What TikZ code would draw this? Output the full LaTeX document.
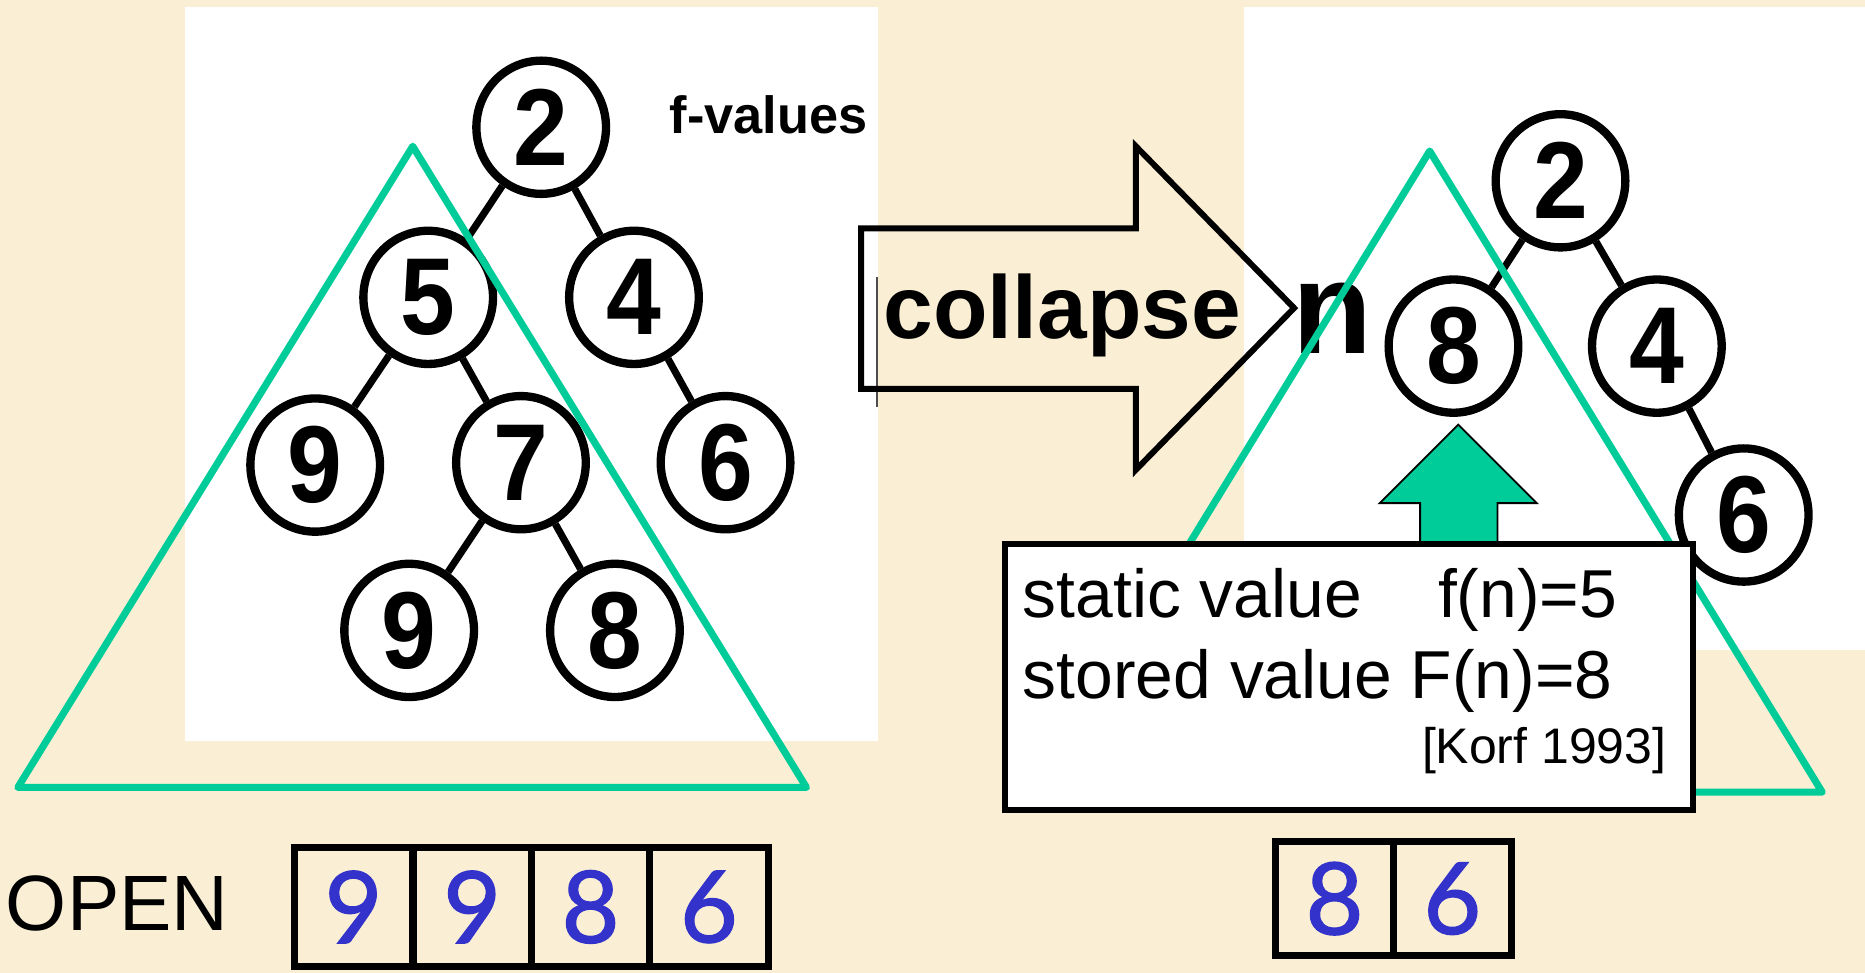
\documentclass[tikz,border=0pt]{standalone}
\usepackage{fontspec}
\setmainfont{Liberation Sans}
\newfontfamily\digitfont[FakeBold=1.3]{Lato}
\newfontfamily\treefont[FakeStretch=0.9]{Liberation Sans}
\usetikzlibrary{shapes.geometric}
\definecolor{bgcol}{RGB}{250,239,212}
\definecolor{tgreen}{RGB}{0,204,153}
\definecolor{dblue}{RGB}{51,51,204}
\begin{document}
\begin{tikzpicture}[x=0.5pt,y=-0.5pt,
  treenode/.style={ellipse, draw, line width=3.5pt, minimum width=54.5pt, minimum height=56pt, inner sep=0pt, font=\treefont\fontsize{46}{46}\selectfont\bfseries},
  treeedge/.style={line width=3pt},
  tri/.style={draw=tgreen, line width=3pt, line join=round},
  cell/.style={draw, line width=3pt, inner sep=0pt, font=\digitfont\fontsize{42}{42}\selectfont, text=dblue},
  lcell/.style={cell, minimum width=49.75pt, minimum height=50pt},
  rcell/.style={cell, minimum width=49.5pt, minimum height=48pt},
  plain/.style={inner sep=0pt, outer sep=0pt}
]
\fill[bgcol] (0,0) rectangle (1568,818);
\useasboundingbox (0,0) rectangle (1568,818);
% white panels
\fill[white] (155.5,5.6) rectangle (738,622.7);
\fill[white] (1045.5,6) rectangle (1568,546.5);
\draw[gray!60!black, line width=0.7pt] (737.5,233) -- (737.5,342);

% left tree
\node[treenode] (L2) at (455,107) {2};
\node[treenode] (L5) at (360,250) {5};
\node[treenode] (L4) at (533,250) {4};
\node[treenode] (L9a) at (265,391) {9};
\node[treenode] (L7) at (438,389) {7};
\node[treenode] (L6) at (610,389) {6};
\node[treenode] (L9b) at (344,530) {9};
\node[treenode] (L8) at (517,530) {8};
\draw[treeedge] (L2) -- (L5);
\draw[treeedge] (L2) -- (L4);
\draw[treeedge] (L5) -- (L9a);
\draw[treeedge] (L5) -- (L7);
\draw[treeedge] (L4) -- (L6);
\draw[treeedge] (L7) -- (L9b);
\draw[treeedge] (L7) -- (L8);
\node[plain, anchor=base west, font=\fontsize{22}{22}\selectfont\bfseries] (fval) at (563,112) {f-values};

% collapse arrow
\draw[line width=2.5pt, line join=miter] (724,192) -- (955,192) -- (955,123) -- (1088,259) -- (955,395) -- (955,327) -- (724,327) -- cycle;
\node[plain, anchor=base west, font=\fontsize{37.5}{37.5}\selectfont\bfseries] (coll) at (743,285) {collapse};
\node[plain, anchor=base west, font=\fontsize{55}{55}\selectfont\bfseries] (nlab) at (1087,297) {n};

% right tree
\node[treenode] (R2) at (1312,152) {2};
\node[treenode] (R8) at (1222,291) {8};
\node[treenode] (R4) at (1393,291) {4};
\node[treenode] (R6) at (1466,433) {6};
\draw[treeedge] (R2) -- (R8);
\draw[treeedge] (R2) -- (R4);
\draw[treeedge] (R4) -- (R6);

% green triangles
\draw[tri] (347,123) -- (15,662) -- (678,662) -- cycle;
\draw[tri] (1202,127) -- (872,666) -- (1532,666) -- cycle;

% green up arrow
\draw[fill=tgreen, line width=0.8pt, line join=miter] (1226,357) -- (1292,423) -- (1259,423) -- (1259,456) -- (1194,456) -- (1194,423) -- (1160,423) -- cycle;

% text box
\node[draw, line width=2.5pt, fill=white, minimum width=289pt, minimum height=112pt, inner sep=0pt] (box) at (1134,569) {};
\node[plain, anchor=base west, font=\fontsize{28.5}{28.5}\selectfont] (t1) at (860,519) {static value\hspace{32pt}f(n)=5};
\node[plain, anchor=base west, font=\fontsize{28.5}{28.5}\selectfont] (t2) at (860,587) {stored value F(n)=8};
\node[plain, anchor=base east, font=\fontsize{21}{21}\selectfont] (korf) at (1401,642) {[Korf 1993]};

% OPEN lists
\node[plain, anchor=base west, font=\fontsize{33}{33}\selectfont] (open) at (5,782) {OPEN};
\node[lcell] (c1) at (297.25,762.5) {9};
\node[lcell] (c2) at (397,762.5) {9};
\node[lcell] (c3) at (496.5,762.5) {8};
\node[lcell] (c4) at (596,762.5) {6};
\node[rcell] (d1) at (1122,755.5) {8};
\node[rcell] (d2) at (1221,755.5) {6};
\end{tikzpicture}
\end{document}
